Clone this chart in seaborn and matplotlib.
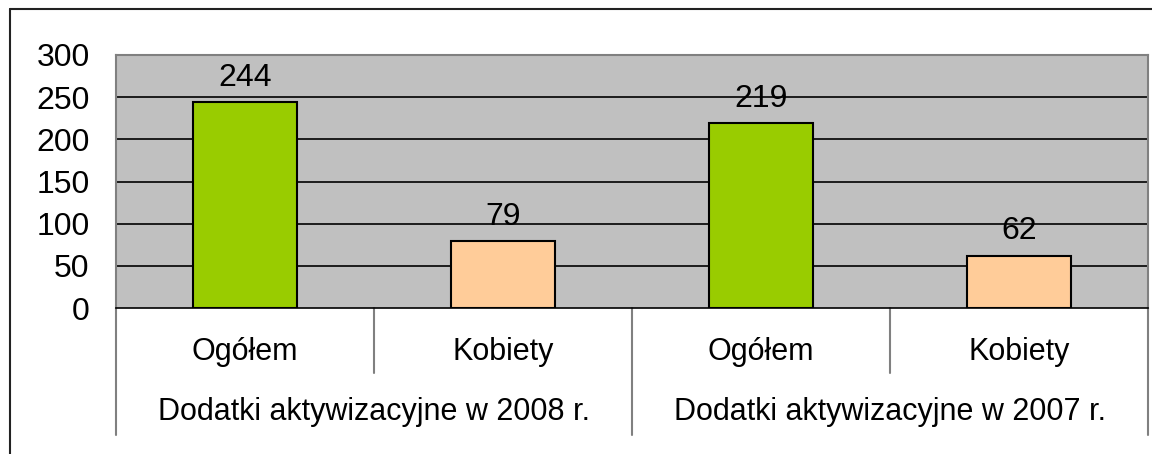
import numpy as np
import pandas as pd
import matplotlib
matplotlib.use("Agg")
import matplotlib.pyplot as plt
from matplotlib.lines import Line2D
import seaborn as sns

# --- data ---
groups = ["Dodatki aktywizacyjne w 2008 r.", "Dodatki aktywizacyjne w 2007 r."]
subcats = ["Ogółem", "Kobiety"]
values = [244, 79, 219, 62]
colors = {"Ogółem": "#99CC00", "Kobiety": "#FFCC99"}

df = pd.DataFrame({
    "slot": [f"{s} {g}" for g in groups for s in subcats],
    "kategoria": [s for g in groups for s in subcats],
    "grupa": [g for g in groups for s in subcats],
    "liczba": values,
})

sns.set_style("white")
plt.rcParams["font.family"] = ["Liberation Sans", "DejaVu Sans"]
plt.rcParams["text.color"] = "black"
plt.rcParams["ytick.color"] = "black"

fig = plt.figure(figsize=(11.52, 4.54), dpi=100)
ax = fig.add_axes([116 / 1152, 146 / 454, 1032 / 1152, 253 / 454])
ax.set_facecolor("#C0C0C0")

sns.barplot(
    data=df, x="slot", y="liczba", hue="kategoria", palette=colors,
    dodge=False, width=0.4, edgecolor="black", linewidth=1.5,
    saturation=1, legend=False, ax=ax, zorder=3,
)

ax.set_ylim(0, 300)
ax.set_xlim(-0.5, len(values) - 0.5)
ax.set_yticks(range(0, 301, 50))
ax.tick_params(axis="y", labelsize=23, length=7, width=1.2, pad=12,
               color="black", labelcolor="black")
ax.tick_params(axis="x", length=0, labelbottom=False)
ax.set_xlabel("")
ax.set_ylabel("")

# horizontal grid lines
for yv in range(50, 300, 50):
    ax.axhline(yv, color="black", linewidth=1.2, zorder=1)

for side in ["top", "right", "left"]:
    ax.spines[side].set_color("#808080")
    ax.spines[side].set_linewidth(1.5)
ax.spines["bottom"].set_color("black")
ax.spines["bottom"].set_linewidth(1.2)

for cont in ax.containers:
    ax.bar_label(cont, fontsize=23, padding=7, color="black")

# category labels below axis
trans = ax.get_xaxis_transform()
for i, row in df.iterrows():
    ax.text(i, -0.174, row["kategoria"], transform=trans, ha="center", va="center",
            fontsize=22, color="black")
for j, g in enumerate(groups):
    ax.text(2 * j + 0.5, -0.41, g, transform=trans, ha="center", va="center",
            fontsize=22, color="black")

# separators
for k, xb in enumerate(np.arange(-0.5, len(values), 1.0)):
    depth = -0.502 if k % 2 == 0 else -0.257
    ax.add_line(Line2D([xb, xb], [0, depth], transform=trans, color="#808080",
                       linewidth=1.5, clip_on=False))

# outer chart frame (cropped)
fig.add_artist(Line2D([10 / 1152, 10 / 1152], [0, 1 - 9 / 454], transform=fig.transFigure,
                      color="#222222", linewidth=1.5))
fig.add_artist(Line2D([10 / 1152, 1], [1 - 9 / 454, 1 - 9 / 454], transform=fig.transFigure,
                      color="#222222", linewidth=1.5))

fig.savefig("out.png", dpi=100)
